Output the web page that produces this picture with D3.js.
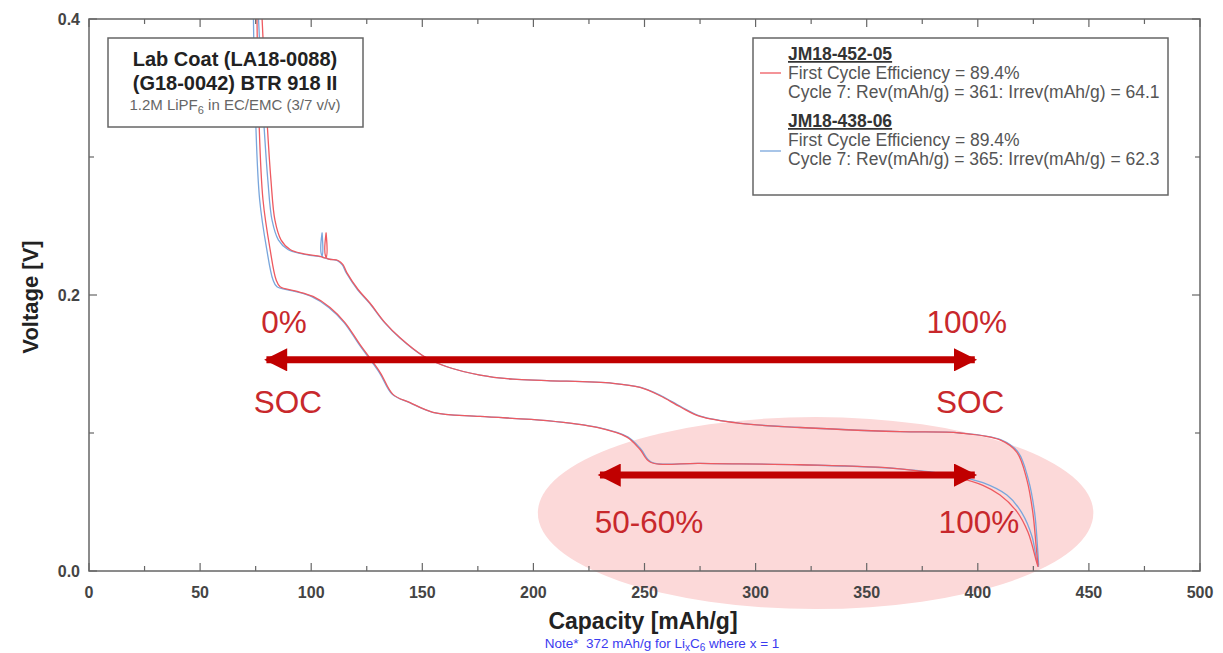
<!doctype html>
<html lang="en">
  <head>
    <meta charset="utf-8">
    <title>Voltage vs Capacity</title>
    <style>
      body { margin: 0; background: #fff; }
      text { font-family: "Liberation Sans", Arial, sans-serif; }
      .pre { white-space: pre; }
    </style>
  </head>
  <body>
    <script src="https://cdn.jsdelivr.net/npm/d3@7"></script>
    <script>

    // ---- data (capacity mAh/g, voltage V) ----
    var red_delith = [
      [77.9,0.400],[79.2,0.356],[80.1,0.327],[81.9,0.283],[83.7,0.254],[86.4,0.240],[90.5,0.233],
      [96.3,0.230],[104.0,0.228],[106.6,0.227],[106.7,0.245],[106.8,0.227],[112.1,0.225],[114.3,0.222],
      [116.1,0.216],[121.1,0.204],[126.5,0.194],[133.2,0.180],[140.0,0.169],[150.3,0.156],[161.1,0.148],
      [176.0,0.142],[190.8,0.139],[206.1,0.138],[235.8,0.136],[248.0,0.133],[257.0,0.127],[266.0,0.119],
      [275.0,0.112],[293.0,0.107],[320.0,0.104],[365.0,0.101],[392.0,0.100],[410.0,0.095],[417.6,0.086],
      [422.1,0.066],[424.8,0.042],[426.2,0.019],[427.1,0.004]
    ];
    var red_lith = [
      [75.6,0.400],[76.5,0.327],[78.3,0.269],[81.5,0.233],[84.2,0.211],[86.0,0.206],[92.7,0.203],
      [100.8,0.199],[108.5,0.191],[115.2,0.180],[122.0,0.164],[131.0,0.144],[136.8,0.128],[144.5,0.122],
      [154.8,0.115],[176.0,0.112],[206.1,0.109],[228.6,0.104],[242.1,0.097],[248.0,0.088],[252.5,0.079],
      [275.0,0.078],[320.0,0.077],[365.0,0.074],[390.0,0.068],[402.3,0.062],[410.0,0.055],[417.6,0.043],
      [422.6,0.028],[426.2,0.008],[427.1,0.003]
    ];
    var blue_delith = [
      [76.3,0.400],[77.6,0.356],[78.6,0.327],[80.5,0.283],[82.4,0.254],[85.2,0.240],[89.5,0.233],
      [95.5,0.230],[103.3,0.228],[104.8,0.228],[104.9,0.245],[105.0,0.228],[111.6,0.225],[113.9,0.222],
      [115.8,0.216],[120.8,0.204],[126.3,0.194],[133.0,0.180],[139.8,0.169],[150.2,0.156],[161.1,0.148],
      [176.0,0.142],[190.8,0.139],[206.1,0.138],[235.8,0.136],[248.3,0.133],[257.5,0.127],[266.5,0.119],
      [275.5,0.112],[293.5,0.107],[320.0,0.104],[365.0,0.101],[392.0,0.100],[410.5,0.095],[418.2,0.086],
      [422.8,0.066],[425.6,0.042],[426.8,0.019],[427.4,0.004]
    ];
    var blue_lith = [
      [74.0,0.400],[75.0,0.327],[76.8,0.269],[80.0,0.233],[82.8,0.211],[84.6,0.206],[91.6,0.203],
      [100.0,0.199],[107.9,0.191],[114.8,0.180],[121.6,0.164],[130.6,0.144],[136.5,0.128],[144.3,0.122],
      [154.7,0.115],[176.0,0.112],[206.1,0.109],[229.0,0.104],[242.6,0.097],[248.5,0.088],[253.0,0.079],
      [275.0,0.078],[320.0,0.077],[365.0,0.074],[390.0,0.069],[402.3,0.064],[413.1,0.055],[419.9,0.042],
      [424.4,0.025],[426.6,0.007],[427.4,0.003]
    ];

    var xTicks = [0, 50, 100, 150, 200, 250, 300, 350, 400, 450, 500];
    var yTicks = [0.0, 0.2, 0.4];
    var xMinor = d3.range(0, 501, 25);
    var yMinor = [0.0, 0.1, 0.2, 0.3, 0.4];

    var legendLines = [
      ["JM18-452-05", "First Cycle Efficiency = 89.4%", "Cycle 7: Rev(mAh/g) = 361: Irrev(mAh/g) = 64.1"],
      ["JM18-438-06", "First Cycle Efficiency = 89.4%", "Cycle 7: Rev(mAh/g) = 365: Irrev(mAh/g) = 62.3"]
    ];

    var RED = "#ee5a60", BLUE = "#79a6dc", DARK = "#c00000", LABEL = "#c8282c";

    var margin = {top: 19, right: 23, bottom: 82, left: 89},
        width  = 1223 - margin.left - margin.right,
        height = 653 - margin.top - margin.bottom;

    var svg = d3.select("body").append("svg")
      .attr("width", 1223)
      .attr("height", 653);

    var x = d3.scaleLinear().domain([0, 500]).range([0, width]);
    var y = d3.scaleLinear().domain([0, 0.4]).range([height, 0]);

    var chart = svg.append("g")
      .attr("transform", "translate(" + margin.left + "," + margin.top + ")");

    // pink highlight ellipse (behind everything)
    chart.append("ellipse")
      .attr("cx", x(327))
      .attr("cy", y(0.042))
      .attr("rx", x(125))
      .attr("ry", 96)
      .attr("fill", "#fcd9d9");

    svg.append("clipPath").attr("id", "clip")
      .append("rect").attr("width", width).attr("height", height);

    var line = d3.line()
      .x(function(d){ return x(d[0]); })
      .y(function(d){ return y(d[1]); })
      .curve(d3.curveCatmullRom.alpha(0.5));

    var curves = chart.append("g").attr("clip-path", "url(#clip)");
    [[blue_delith, BLUE], [blue_lith, BLUE], [red_delith, RED], [red_lith, RED]].forEach(function(c){
      curves.append("path")
        .attr("d", line(c[0]))
        .attr("fill", "none")
        .attr("stroke", c[1])
        .attr("stroke-width", 1.3);
    });

    // frame + inward ticks
    chart.append("rect")
      .attr("width", width).attr("height", height)
      .attr("fill", "none").attr("stroke", "#666").attr("stroke-width", 1.5);

    xMinor.forEach(function(v){
      var l = xTicks.indexOf(v) >= 0 ? 8 : 5;
      chart.append("line").attr("x1", x(v)).attr("x2", x(v)).attr("y1", height).attr("y2", height - l)
        .attr("stroke", "#666").attr("stroke-width", 1.2);
      chart.append("line").attr("x1", x(v)).attr("x2", x(v)).attr("y1", 0).attr("y2", l)
        .attr("stroke", "#666").attr("stroke-width", 1.2);
    });
    yMinor.forEach(function(v){
      var l = yTicks.indexOf(v) >= 0 ? 8 : 5;
      chart.append("line").attr("x1", 0).attr("x2", l).attr("y1", y(v)).attr("y2", y(v))
        .attr("stroke", "#666").attr("stroke-width", 1.2);
      chart.append("line").attr("x1", width).attr("x2", width - l).attr("y1", y(v)).attr("y2", y(v))
        .attr("stroke", "#666").attr("stroke-width", 1.2);
    });

    chart.selectAll(".xlab")
      .data(xTicks)
      .enter().append("text")
      .attr("x", function(d){ return x(d); })
      .attr("y", height + 27)
      .attr("text-anchor", "middle")
      .attr("font-size", 16)
      .attr("font-weight", "bold")
      .attr("fill", "#444")
      .text(function(d){ return d; });

    chart.selectAll(".ylab")
      .data(yTicks)
      .enter().append("text")
      .attr("x", -9)
      .attr("y", function(d){ return y(d) + 6; })
      .attr("text-anchor", "end")
      .attr("font-size", 16)
      .attr("font-weight", "bold")
      .attr("fill", "#444")
      .text(function(d){ return d.toFixed(1); });

    // axis titles
    svg.append("text")
      .attr("x", 643).attr("y", 629)
      .attr("text-anchor", "middle")
      .attr("font-size", 23).attr("font-weight", "bold").attr("fill", "#222")
      .text("Capacity [mAh/g]");

    svg.append("text")
      .attr("transform", "translate(38,297) rotate(-90)")
      .attr("text-anchor", "middle")
      .attr("font-size", 22).attr("font-weight", "bold").attr("fill", "#222")
      .text("Voltage [V]");

    var note = svg.append("text")
      .attr("class", "pre")
      .attr("x", 662).attr("y", 648)
      .attr("text-anchor", "middle")
      .attr("font-size", 13.5).attr("fill", "#3b3bf0");
    note.append("tspan").text("Note*  372 mAh/g for Li");
    note.append("tspan").attr("dy", 3).attr("font-size", 10).text("x");
    note.append("tspan").attr("dy", -3).text("C");
    note.append("tspan").attr("dy", 3).attr("font-size", 10).text("6");
    note.append("tspan").attr("dy", -3).text(" where x = 1");

    // sample box (top left)
    var box = svg.append("g").attr("transform", "translate(108,38)");
    box.append("rect").attr("width", 255).attr("height", 89)
      .attr("fill", "#fff").attr("stroke", "#666").attr("stroke-width", 1.5);
    box.append("text").attr("x", 127).attr("y", 28).attr("text-anchor", "middle")
      .attr("font-size", 20).attr("font-weight", "bold").attr("fill", "#222")
      .text("Lab Coat (LA18-0088)");
    box.append("text").attr("x", 127).attr("y", 52).attr("text-anchor", "middle")
      .attr("font-size", 20).attr("font-weight", "bold").attr("fill", "#222")
      .text("(G18-0042) BTR 918 II");
    var sub = box.append("text").attr("x", 127).attr("y", 72).attr("text-anchor", "middle")
      .attr("font-size", 15).attr("fill", "#666");
    sub.append("tspan").text("1.2M LiPF");
    sub.append("tspan").attr("dy", 4).attr("font-size", 11).text("6");
    sub.append("tspan").attr("dy", -4).text(" in EC/EMC (3/7 v/v)");

    // legend box (top right)
    var leg = svg.append("g").attr("transform", "translate(753,38)");
    leg.append("rect").attr("width", 415).attr("height", 157)
      .attr("fill", "#fff").attr("stroke", "#666").attr("stroke-width", 1.5);
    legendLines.forEach(function(rows, i){
      var g = leg.append("g").attr("transform", "translate(0," + (i * 67) + ")");
      g.append("line").attr("x1", 7).attr("x2", 28)
        .attr("y1", 35 + i * 11).attr("y2", 35 + i * 11)
        .attr("stroke", i === 0 ? RED : BLUE).attr("stroke-width", 1.3);
      g.append("text").attr("x", 35).attr("y", 22)
        .attr("font-size", 17.5).attr("font-weight", "bold").attr("fill", "#333")
        .attr("text-decoration", "underline")
        .text(rows[0]);
      g.append("text").attr("x", 35).attr("y", 41)
        .attr("font-size", 17.5).attr("fill", "#555").text(rows[1]);
      g.append("text").attr("x", 35).attr("y", 60)
        .attr("font-size", 17.5).attr("fill", "#555").text(rows[2]);
    });

    // SOC arrows
    svg.append("defs").append("marker")
      .attr("id", "head")
      .attr("viewBox", "0 0 10 10")
      .attr("refX", 9).attr("refY", 5)
      .attr("markerWidth", 3.8).attr("markerHeight", 3.3)
      .attr("orient", "auto-start-reverse")
      .append("path").attr("d", "M0,0 L10,5 L0,10 Z").attr("fill", DARK);

    var arrows = [
      {x1: 78.5, x2: 400, v: 0.1530},
      {x1: 228.6, x2: 400, v: 0.0695}
    ];
    chart.selectAll(".arrow")
      .data(arrows)
      .enter().append("line")
      .attr("x1", function(d){ return x(d.x1) + 3; })
      .attr("x2", function(d){ return x(d.x2) - 3; })
      .attr("y1", function(d){ return y(d.v); })
      .attr("y2", function(d){ return y(d.v); })
      .attr("stroke", DARK)
      .attr("stroke-width", 7)
      .attr("marker-start", "url(#head)")
      .attr("marker-end", "url(#head)");

    var labels = [
      {t: "0%",     c: 87.8,  v: 0.1725},
      {t: "100%",   c: 395,   v: 0.1725},
      {t: "SOC",    c: 89.5,  v: 0.1145},
      {t: "SOC",    c: 396.5, v: 0.1145},
      {t: "50-60%", c: 252,   v: 0.0275},
      {t: "100%",   c: 400.5, v: 0.0275}
    ];
    chart.selectAll(".soc")
      .data(labels)
      .enter().append("text")
      .attr("x", function(d){ return x(d.c); })
      .attr("y", function(d){ return y(d.v); })
      .attr("text-anchor", "middle")
      .attr("font-size", 31.5)
      .attr("fill", LABEL)
      .text(function(d){ return d.t; });

    </script>
  </body>
</html>
